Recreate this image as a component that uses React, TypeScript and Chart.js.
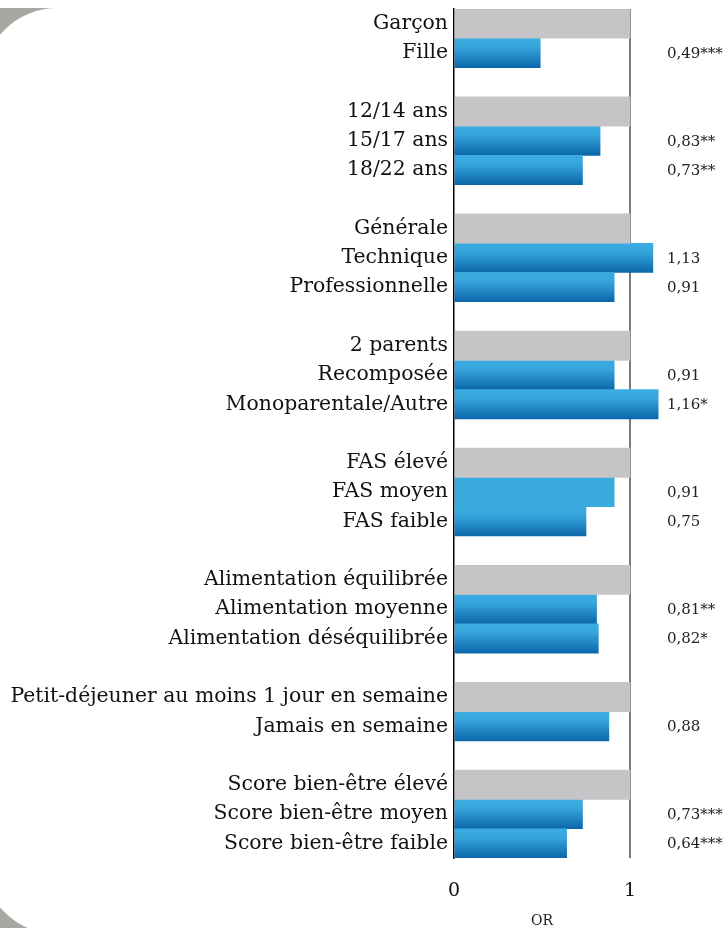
import React, { useEffect, useRef } from "react";
import { Chart, registerables } from "chart.js";

Chart.register(...registerables);

const categories: string[] = [
  "Garçon", "Fille", "",
  "12/14 ans", "15/17 ans", "18/22 ans", "",
  "Générale", "Technique", "Professionnelle", "",
  "2 parents", "Recomposée", "Monoparentale/Autre", "",
  "FAS élevé", "FAS moyen", "FAS faible", "",
  "Alimentation équilibrée", "Alimentation moyenne", "Alimentation déséquilibrée", "",
  "Petit-déjeuner au moins 1 jour en semaine", "Jamais en semaine", "",
  "Score bien-être élevé", "Score bien-être moyen", "Score bien-être faible",
];

const referenceValues: (number | null)[] = [
  1, null, null,
  1, null, null, null,
  1, null, null, null,
  1, null, null, null,
  1, null, null, null,
  1, null, null, null,
  1, null, null,
  1, null, null,
];

const orValues: (number | null)[] = [
  null, 0.49, null,
  null, 0.83, 0.73, null,
  null, 1.13, 0.91, null,
  null, 0.91, 1.16, null,
  null, 0.91, 0.75, null,
  null, 0.81, 0.82, null,
  null, 0.88, null,
  null, 0.73, 0.64,
];

const valueLabels: string[] = [
  "", "0,49***", "",
  "", "0,83**", "0,73**", "",
  "", "1,13", "0,91", "",
  "", "0,91", "1,16*", "",
  "", "0,91", "0,75", "",
  "", "0,81**", "0,82*", "",
  "", "0,88", "",
  "", "0,73***", "0,64***",
];

const xTickValues: number[] = [0, 1];
const axisTitle = "OR";
const FLAT_BAR_CATEGORY = "FAS moyen";

const FONT = "'DejaVu Serif', serif";

const cornerPlugin = {
  id: "corners",
  beforeDraw(chart: any) {
    const ctx = chart.ctx;
    ctx.save();
    ctx.fillStyle = "#a8a8a3";
    ctx.beginPath();
    ctx.moveTo(-17, 8);
    ctx.lineTo(-17, 82);
    ctx.arc(57, 82, 74, Math.PI, Math.PI * 1.5, false);
    ctx.closePath();
    ctx.fill();
    ctx.beginPath();
    ctx.moveTo(-17, 934);
    ctx.lineTo(57, 934);
    ctx.arc(57, 860, 74, Math.PI / 2, Math.PI, false);
    ctx.closePath();
    ctx.fill();
    ctx.restore();
  },
};

const labelsPlugin = {
  id: "valueLabels",
  afterDatasetsDraw(chart: any) {
    const ctx = chart.ctx;
    const xs = chart.scales.x;
    const ys = chart.scales.y;
    ctx.save();
    ctx.font = `15px ${FONT}`;
    ctx.fillStyle = "#222";
    ctx.textAlign = "left";
    ctx.textBaseline = "middle";
    valueLabels.forEach((t, i) => {
      if (!t) return;
      ctx.fillText(t, xs.getPixelForValue(1.21), ys.getPixelForValue(i) + 1);
    });
    ctx.font = `14px ${FONT}`;
    ctx.textAlign = "center";
    ctx.fillText(axisTitle, xs.getPixelForValue(0.5), chart.height - 7);
    ctx.restore();
  },
};

function blueFill(c: any) {
  const chart = c.chart;
  const ys = chart.scales && chart.scales.y;
  if (c.type !== "data" || !ys || !chart.chartArea) return "#38a8dd";
  if (categories[c.dataIndex] === FLAT_BAR_CATEGORY) return "#3aa9dd";
  const center = ys.getPixelForValue(c.dataIndex);
  const half = Math.abs(ys.getPixelForValue(1) - ys.getPixelForValue(0)) / 2;
  const g = chart.ctx.createLinearGradient(0, center - half, 0, center + half);
  g.addColorStop(0, "#3badE2");
  g.addColorStop(0.3, "#36a5dc");
  g.addColorStop(1, "#0b67aa");
  return g;
}

export default function App() {
  const ref = useRef<HTMLCanvasElement>(null);
  useEffect(() => {
    if (!ref.current) return;
    const chart = new Chart(ref.current, {
      type: "bar",
      data: {
        labels: categories,
        datasets: [
          {
            label: "Référence",
            data: referenceValues,
            backgroundColor: "#c5c5c7",
            grouped: false,
            barPercentage: 1,
            categoryPercentage: 1,
          } as any,
          {
            label: "OR",
            data: orValues,
            backgroundColor: blueFill,
            grouped: false,
            barPercentage: 1,
            categoryPercentage: 1,
          } as any,
        ],
      },
      plugins: [cornerPlugin, labelsPlugin],
      options: {
        indexAxis: "y",
        responsive: false,
        animation: false,
        devicePixelRatio: 1,
        layout: { padding: { top: 9, right: 7, left: 0, bottom: 0 } },
        plugins: { legend: { display: false }, tooltip: { enabled: false } },
        scales: {
          x: {
            min: 0,
            max: 1.5,
            afterBuildTicks: (s: any) => {
              s.ticks = xTickValues.map((v) => ({ value: v }));
            },
            afterFit: (s: any) => {
              s.height = 70;
              s.paddingLeft = 0;
              s.paddingRight = 0;
            },
            ticks: {
              padding: 22,
              color: "#111",
              font: { family: FONT, size: 19 },
              callback: (v: any) => String(v),
              maxRotation: 0,
            },
            grid: {
              drawTicks: false,
              color: (c: any) => (c.tick && c.tick.value === 1 ? "#7a7a7a" : "rgba(0,0,0,0)"),
              lineWidth: 2,
            },
            border: { display: false },
          },
          y: {
            afterFit: (s: any) => {
              s.width = 454;
              s.paddingTop = 0;
              s.paddingBottom = 0;
            },
            ticks: {
              padding: 6,
              color: "#111",
              font: { family: FONT, size: 20.4 },
              autoSkip: false,
            },
            grid: { display: false, drawTicks: false },
            border: { display: true, color: "#000", width: 1.5 },
          },
        },
      },
    });
    return () => chart.destroy();
  }, []);
  return (
    <div style={{ position: "fixed", left: 0, top: 0, width: 725, height: 928, background: "#fff" }}>
      <canvas ref={ref} width={725} height={928} />
    </div>
  );
}
